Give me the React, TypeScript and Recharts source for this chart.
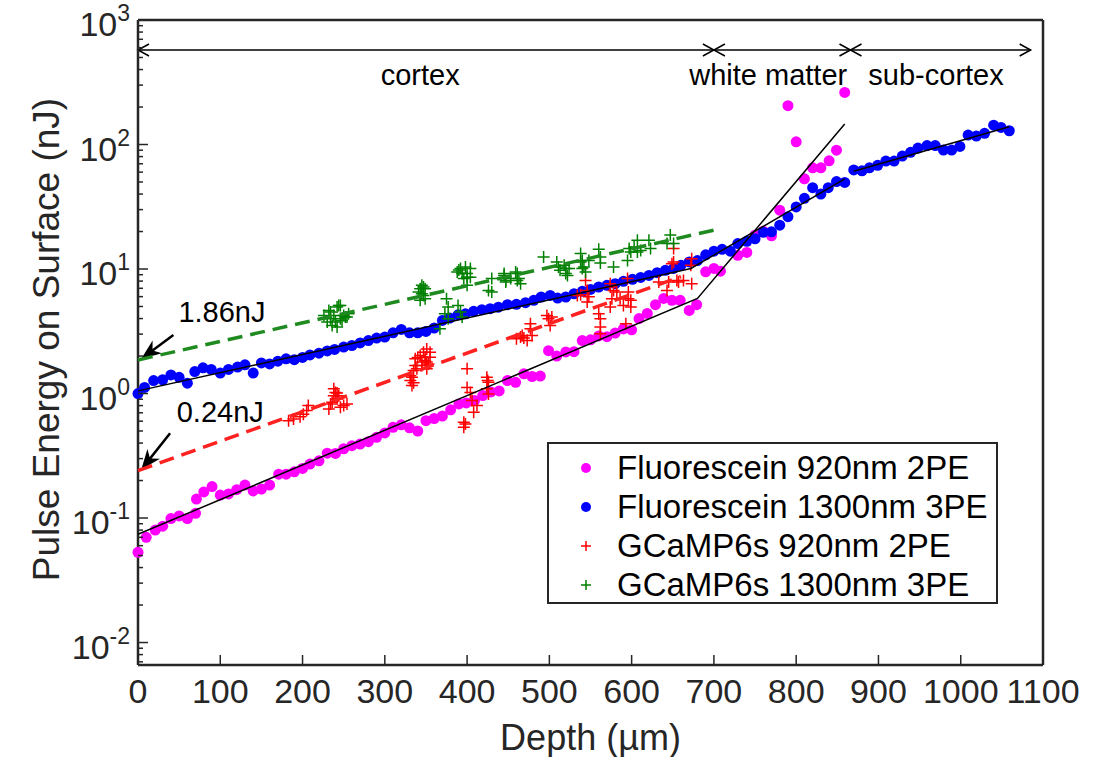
import React from "react";
import {
  ScatterChart,
  Scatter,
  XAxis,
  YAxis,
  ReferenceLine,
  ReferenceDot,
  Legend,
  Label,
} from "recharts";

type Pt = [number, number];

// Fluorescein 920nm 2PE (magenta dots)
const fluo920: Pt[] = [
  [0, 0.053], [10, 0.07], [21, 0.08], [30, 0.086], [40, 0.099], [50, 0.104], [60, 0.099],
  [70, 0.109], [71, 0.142], [80, 0.162], [90, 0.179], [100, 0.153], [110, 0.156], [120, 0.169],
  [130, 0.184], [140, 0.165], [150, 0.171], [160, 0.184], [171, 0.225], [180, 0.225], [190, 0.235],
  [200, 0.25], [209, 0.271], [220, 0.288], [230, 0.332], [240, 0.33], [250, 0.36], [260, 0.381],
  [270, 0.393], [280, 0.41], [290, 0.445], [300, 0.482], [310, 0.535], [320, 0.56], [330, 0.53],
  [340, 0.5], [350, 0.605], [360, 0.63], [370, 0.66], [380, 0.74], [390, 0.825], [399, 0.84],
  [409, 0.877], [419, 0.962], [429, 1.03], [439, 1.05], [449, 1.27], [459, 1.23], [469, 1.44],
  [479, 1.37], [489, 1.38], [499, 2.21], [509, 2.0], [520, 2.16], [530, 2.17], [540, 2.66],
  [550, 2.7], [560, 2.9], [570, 2.86], [580, 3.06], [590, 3.3], [600, 3.25], [609, 4.0],
  [619, 4.4], [629, 5.17], [639, 5.8], [649, 5.6], [659, 5.6], [670, 4.65], [679, 5.17],
  [690, 9.5], [700, 10.1], [708, 9.6], [729, 12.9], [740, 13.6], [750, 18.7], [760, 20.1],
  [770, 18.5], [780, 29.7], [790, 205], [800, 105], [810, 53], [820, 65], [830, 65], [840, 74],
  [849, 90], [859, 262],
];

// Fluorescein 1300nm 3PE (blue dots)
const fluo1300: Pt[] = [
  [0, 1.0], [8, 1.12], [19, 1.27], [30, 1.29], [40, 1.41], [50, 1.35], [60, 1.21], [69, 1.5],
  [79, 1.61], [89, 1.56], [100, 1.46], [110, 1.56], [121, 1.63], [130, 1.7], [140, 1.46],
  [150, 1.76], [160, 1.73], [170, 1.82], [180, 1.9], [190, 1.87], [200, 1.95], [209, 2.04],
  [220, 2.11], [230, 2.2], [239, 2.26], [250, 2.36], [260, 2.43], [270, 2.55], [280, 2.66],
  [290, 2.79], [300, 2.84], [310, 3.07], [320, 3.27], [330, 3.07], [340, 3.07], [350, 3.15],
  [360, 3.36], [370, 3.86], [379, 4.04], [389, 4.29], [398, 4.37], [408, 4.57], [418, 4.71],
  [428, 4.8], [438, 4.94], [449, 5.17], [460, 5.2], [471, 5.36], [481, 5.6], [490, 5.96],
  [501, 6.14], [510, 5.84], [520, 5.96], [530, 6.33], [540, 6.62], [550, 6.86], [560, 7.17],
  [570, 7.39], [580, 7.63], [590, 7.96], [601, 8.27], [611, 8.55], [621, 8.88], [631, 9.35],
  [641, 9.77], [651, 10.1], [660, 10.7], [670, 11.4], [680, 11.7], [690, 13.0], [700, 13.9],
  [710, 14.4], [720, 13.9], [729, 16.0], [740, 16.7], [750, 17.5], [760, 19.7], [770, 19.9],
  [780, 22.5], [790, 26.3], [800, 31.5], [810, 37], [820, 45], [830, 40], [839, 45], [849, 50.4],
  [859, 49.6], [870, 62.5], [880, 61.5], [889, 65], [899, 68], [909, 73.6], [919, 73.6],
  [929, 80.8], [939, 86.5], [948, 93.6], [959, 98], [969, 98], [979, 90.3], [989, 90.3],
  [999, 96.5], [1009, 119], [1019, 117], [1029, 123], [1040, 143], [1049, 137], [1059, 129],
];

// GCaMP6s 920nm 2PE (red crosses)
const gcamp920: Pt[] = [
  [183, 0.605], [189, 0.625], [197, 0.65], [201, 0.68], [205, 0.73], [207, 0.8], [232, 0.75],
  [234, 0.825], [236, 0.85], [238, 0.96], [238, 1.09], [240, 1.02], [242, 1.01], [242, 0.905],
  [244, 0.96], [246, 0.776], [250, 0.8], [254, 0.825],
  [331, 1.27], [331, 1.39], [333, 1.16], [333, 1.35], [335, 1.53], [335, 1.22], [337, 1.68],
  [337, 1.9], [339, 1.58], [340, 1.95], [343, 2.02], [345, 1.79], [345, 1.68], [347, 2.15],
  [349, 1.84], [349, 1.96], [351, 2.28], [351, 1.58], [351, 1.79], [353, 1.73], [355, 1.96],
  [355, 2.15],
  [396, 0.588], [396, 0.535], [398, 0.57], [400, 1.58], [400, 1.12], [404, 1.02], [406, 0.877],
  [408, 0.707], [412, 0.8], [424, 1.35], [424, 1.09], [425, 1.27], [426, 1.23], [426, 0.993],
  [460, 2.75], [465, 2.84], [467, 2.93], [469, 2.79], [473, 2.66], [477, 3.63], [477, 3.31],
  [479, 2.93], [497, 4.24], [499, 3.98], [501, 3.52], [503, 4.11],
  [534, 6.14], [538, 6.22], [544, 8.1], [546, 6.73], [548, 6.0], [546, 5.43], [560, 4.37],
  [562, 3.98], [562, 3.42], [562, 3.02], [574, 7.63], [574, 7.17], [576, 5.77], [574, 4.95],
  [578, 6.73], [582, 6.54], [586, 5.77], [590, 5.1], [593, 3.63], [595, 8.4], [596, 6.54],
  [596, 5.77], [599, 4.95], [599, 5.6],
  [633, 7.86], [643, 6.73], [645, 7.86], [649, 11.0], [651, 14.6], [651, 11.4], [655, 8.1],
  [657, 7.86], [663, 8.1], [672, 10.7], [673, 12.1], [673, 7.63],
];

// GCaMP6s 1300nm 3PE (green crosses)
const gcamp1300: Pt[] = [
  [226, 4.24], [230, 3.75], [232, 4.65], [234, 3.98], [234, 4.51], [236, 3.52], [238, 4.24],
  [240, 3.75], [242, 3.42], [242, 4.95], [244, 5.1], [246, 3.98], [246, 5.1], [248, 3.86],
  [250, 4.24], [252, 4.11], [254, 4.11], [256, 4.37],
  [341, 6.54], [343, 6.95], [343, 5.6], [345, 7.39], [345, 6.33], [347, 7.17], [347, 6.14],
  [349, 5.77], [349, 6.95],
  [367, 3.31], [373, 4.37], [375, 5.77], [377, 4.95], [377, 3.98], [388, 9.46], [389, 5.1],
  [390, 9.8], [392, 10.1], [392, 4.51], [394, 4.11], [394, 9.2], [396, 8.4], [398, 10.4],
  [400, 9.2], [400, 8.6], [400, 7.39], [404, 10.1], [404, 8.6],
  [426, 6.73], [430, 6.54], [430, 8.4], [445, 8.88], [445, 9.2], [447, 7.86], [447, 8.1],
  [453, 8.4], [459, 9.46], [461, 9.2], [461, 8.1], [463, 8.4], [465, 7.63],
  [493, 12.5], [509, 11.4], [511, 10.4], [513, 9.77], [518, 10.7], [520, 10.1], [520, 9.2],
  [522, 8.88], [524, 10.1], [538, 13.3], [538, 11.4], [540, 11.7], [540, 10.1], [542, 10.4],
  [544, 9.46], [548, 11.7], [560, 14.4], [562, 12.5], [562, 11.2], [578, 10.4],
  [595, 11.7], [597, 14.6], [599, 13.7], [603, 15.0], [607, 13.7], [607, 17.0], [611, 14.1],
  [621, 17.0], [623, 14.6], [643, 16.0], [647, 18.8], [651, 16.0],
];

// fitted lines
const fitFluo920: Pt[] = [[0, 0.074], [680, 5.8], [859, 146]];
const fitFluo1300Cortex: Pt[] = [[0, 1.05], [672, 10.1], [859, 53]];
const fitFluo1300Sub: Pt[] = [[870, 61], [1059, 139]];
const fitGcamp920: Pt[] = [[0, 0.24], [660, 8.7]];
const fitGcamp1300: Pt[] = [[0, 1.86], [700, 20.5]];

const xTicks = [0, 100, 200, 300, 400, 500, 600, 700, 800, 900, 1000, 1100];
const yMajor = [0.01, 0.1, 1, 10, 100, 1000];

const regions = [
  { name: "cortex", from: 0, to: 700, labelX: 343 },
  { name: "white matter", from: 700, to: 866, labelX: 766 },
  { name: "sub-cortex", from: 866, to: 1085, labelX: 970 },
];
const regionArrowY = 574;
const regionLabelY = 361;

const callouts = [
  { text: "1.86nJ", textX: 102, textY: 4.5, tail: [43, 2.95] as Pt, tip: [4, 1.9] as Pt },
  { text: "0.24nJ", textX: 100, textY: 0.71, tail: [39, 0.48] as Pt, tip: [4, 0.245] as Pt },
];

const AXIS = "#262626";
const FONT = "'Liberation Sans', Arial, Helvetica, sans-serif";
const NARROW = "'Liberation Sans Narrow', 'Liberation Sans', Arial, sans-serif";

const toXY = (pts: Pt[]) => pts.map(([x, y]) => ({ x, y }));

const yMinor: number[] = [];
for (let e = -3; e <= 2; e++) {
  for (let m = 2; m <= 9; m++) {
    const v = m * Math.pow(10, e);
    if (v > 0.0066) yMinor.push(+v.toPrecision(3));
  }
}
const yTicks = [...yMajor, ...yMinor].sort((a, b) => a - b);

const dot = (color: string) => (p: any) => <circle cx={p.cx} cy={p.cy} r={5.5} fill={color} />;
const plus = (color: string) => (p: any) => (
  <path
    d={`M${p.cx - 6},${p.cy}H${p.cx + 6}M${p.cx},${p.cy - 6}V${p.cy + 6}`}
    stroke={color}
    strokeWidth={1.5}
    fill="none"
  />
);
const noShape = () => <g />;

const YTick = (props: any) => {
  const { x, y, payload } = props;
  const lg = Math.log10(payload.value);
  const exp = Math.round(lg);
  const major = Math.abs(lg - exp) < 1e-6;
  return (
    <g>
      <line x1={x} y1={y} x2={x + (major ? 10 : 5)} y2={y} stroke={AXIS} strokeWidth={1.5} />
      {major && (
        <text x={x - 8} y={y + 16} textAnchor="end" fontSize={34} fill={AXIS} fontFamily={FONT}>
          <tspan>10</tspan>
          <tspan dy={-15} fontSize={23}>{exp}</tspan>
        </text>
      )}
    </g>
  );
};

const XTick = (props: any) => {
  const { x, y, payload } = props;
  return (
    <g>
      <line x1={x} y1={y} x2={x} y2={y - 10} stroke={AXIS} strokeWidth={1.5} />
      <text x={x} y={y + 38} textAnchor="middle" fontSize={34} fill={AXIS} fontFamily={NARROW}>
        {payload.value}
      </text>
    </g>
  );
};

const doubleArrow = (p: any) => {
  const { x1, y1, x2 } = p;
  const h = 11;
  const w = 6;
  return (
    <g stroke="#000" strokeWidth={1.5} fill="none">
      <line x1={x1} y1={y1} x2={x2} y2={y1} />
      <path d={`M${x1 + h},${y1 - w}L${x1},${y1}L${x1 + h},${y1 + w}`} />
      <path d={`M${x2 - h},${y1 - w}L${x2},${y1}L${x2 - h},${y1 + w}`} />
    </g>
  );
};

const headArrow = (p: any) => {
  const { x1, y1, x2, y2 } = p;
  const dx = x2 - x1;
  const dy = y2 - y1;
  const len = Math.hypot(dx, dy) || 1;
  const ux = dx / len;
  const uy = dy / len;
  const hl = 20;
  const hw = 8;
  const bx = x2 - ux * hl;
  const by = y2 - uy * hl;
  return (
    <g>
      <line x1={x1} y1={y1} x2={x2 - ux * 6} y2={y2 - uy * 6} stroke="#000" strokeWidth={2.5} />
      <polygon
        points={`${x2},${y2} ${bx - uy * hw},${by + ux * hw} ${bx + ux * 6},${by + uy * 6} ${bx + uy * hw},${by - ux * hw}`}
        fill="#000"
      />
    </g>
  );
};

const legendItems = [
  { label: "Fluorescein 920nm 2PE", color: "#ff00ff", kind: "dot" },
  { label: "Fluorescein 1300nm 3PE", color: "#0000ff", kind: "dot" },
  { label: "GCaMP6s 920nm 2PE", color: "#ff0000", kind: "plus" },
  { label: "GCaMP6s 1300nm 3PE", color: "#008000", kind: "plus" },
];

const renderLegend = () => (
  <div
    style={{
      border: `2.5px solid ${AXIS}`,
      background: "#fff",
      width: 451,
      height: 162,
      boxSizing: "border-box",
      paddingTop: 5,
      fontFamily: FONT,
      fontSize: 33,
      color: "#000",
    }}
  >
    {legendItems.map((it) => (
      <div key={it.label} style={{ display: "flex", alignItems: "center", height: 38.8 }}>
        <svg width={68} height={20} style={{ flex: "none" }}>
          {it.kind === "dot" ? (
            <circle cx={37} cy={10} r={5} fill={it.color} />
          ) : (
            <path d="M32,10H42M37,5V15" stroke={it.color} strokeWidth={1.5} />
          )}
        </svg>
        <span style={{ whiteSpace: "nowrap" }}>{it.label}</span>
      </div>
    ))}
  </div>
);

export default function App() {
  return (
    <div style={{ width: 1101, height: 757, position: "relative", background: "#fff" }}>
      <style>{`body{margin:0;background:#fff}`}</style>
      <ScatterChart width={1101} height={757} margin={{ top: 20, right: 58, bottom: 0, left: 0 }}>
        <XAxis
          type="number"
          dataKey="x"
          domain={[0, 1100]}
          ticks={xTicks}
          interval={0}
          tickSize={0}
          tickMargin={0}
          tick={<XTick />}
          height={92}
          axisLine={{ stroke: AXIS, strokeWidth: 2.5 }}
          tickLine={false}
        >
          <Label
            content={(p: any) => {
              const vb = p.viewBox;
              return (
                <text
                  x={vb.x + vb.width / 2}
                  y={vb.y + 85}
                  textAnchor="middle"
                  fontSize={36}
                  fill={AXIS}
                  fontFamily={FONT}
                >
                  Depth (µm)
                </text>
              );
            }}
          />
        </XAxis>
        <YAxis
          type="number"
          dataKey="y"
          scale="log"
          domain={[0.0066, 1000]}
          allowDataOverflow
          ticks={yTicks}
          interval={0}
          tickSize={0}
          tickMargin={0}
          tick={<YTick />}
          width={138}
          axisLine={{ stroke: AXIS, strokeWidth: 2.5 }}
          tickLine={false}
        >
          <Label
            content={(p: any) => {
              const vb = p.viewBox;
              const cx = vb.x + 46;
              const cy = vb.y + vb.height / 2 - 3;
              return (
                <text
                  x={cx}
                  y={cy}
                  transform={`rotate(-90 ${cx} ${cy})`}
                  textAnchor="middle"
                  dominantBaseline="central"
                  fontSize={37}
                  fill={AXIS}
                  fontFamily={FONT}
                >
                  Pulse Energy on Surface (nJ)
                </text>
              );
            }}
          />
        </YAxis>

        <ReferenceLine y={1000} stroke={AXIS} strokeWidth={2.5} />
        <ReferenceLine x={1100} stroke={AXIS} strokeWidth={2.5} />

        <Scatter data={toXY(fluo920)} fill="#ff00ff" shape={dot("#ff00ff")} isAnimationActive={false} />
        <Scatter data={toXY(fluo1300)} fill="#0000ff" shape={dot("#0000ff")} isAnimationActive={false} />
        <Scatter data={toXY(gcamp920)} fill="#ff0000" shape={plus("#ff0000")} isAnimationActive={false} />
        <Scatter data={toXY(gcamp1300)} fill="#008000" shape={plus("#008000")} isAnimationActive={false} />

        <Scatter
          data={toXY(fitGcamp1300)}
          shape={noShape}
          line={{ stroke: "#1f8a1f", strokeWidth: 3.5, strokeDasharray: "15 8" }}
          lineType="joint"
          isAnimationActive={false}
        />
        <Scatter
          data={toXY(fitGcamp920)}
          shape={noShape}
          line={{ stroke: "#ff2020", strokeWidth: 3.5, strokeDasharray: "15 8" }}
          lineType="joint"
          isAnimationActive={false}
        />
        <Scatter
          data={toXY(fitFluo920)}
          shape={noShape}
          line={{ stroke: "#000", strokeWidth: 1.5 }}
          lineType="joint"
          isAnimationActive={false}
        />
        <Scatter
          data={toXY(fitFluo1300Cortex)}
          shape={noShape}
          line={{ stroke: "#000", strokeWidth: 1.5 }}
          lineType="joint"
          isAnimationActive={false}
        />
        <Scatter
          data={toXY(fitFluo1300Sub)}
          shape={noShape}
          line={{ stroke: "#000", strokeWidth: 1.5 }}
          lineType="joint"
          isAnimationActive={false}
        />

        {regions.map((r) => (
          <ReferenceLine
            key={r.name}
            segment={[
              { x: r.from, y: regionArrowY },
              { x: r.to, y: regionArrowY },
            ]}
            shape={doubleArrow}
          />
        ))}
        {regions.map((r) => (
          <ReferenceDot
            key={r.name + "-label"}
            x={r.labelX}
            y={regionLabelY}
            r={0}
            fill="none"
            stroke="none"
            label={{ value: r.name, position: "center", fontSize: 29, fill: "#000", fontFamily: FONT }}
          />
        ))}
        {callouts.map((c) => (
          <ReferenceLine
            key={c.text}
            segment={[
              { x: c.tail[0], y: c.tail[1] },
              { x: c.tip[0], y: c.tip[1] },
            ]}
            shape={headArrow}
          />
        ))}
        {callouts.map((c) => (
          <ReferenceDot
            key={c.text + "-label"}
            x={c.textX}
            y={c.textY}
            r={0}
            fill="none"
            stroke="none"
            label={{ value: c.text, position: "center", fontSize: 29, fill: "#000", fontFamily: FONT }}
          />
        ))}

        <Legend
          layout="vertical"
          align="center"
          verticalAlign="middle"
          content={renderLegend}
          wrapperStyle={{ left: 547, top: 442, width: 451, height: 162 }}
        />
      </ScatterChart>
    </div>
  );
}
